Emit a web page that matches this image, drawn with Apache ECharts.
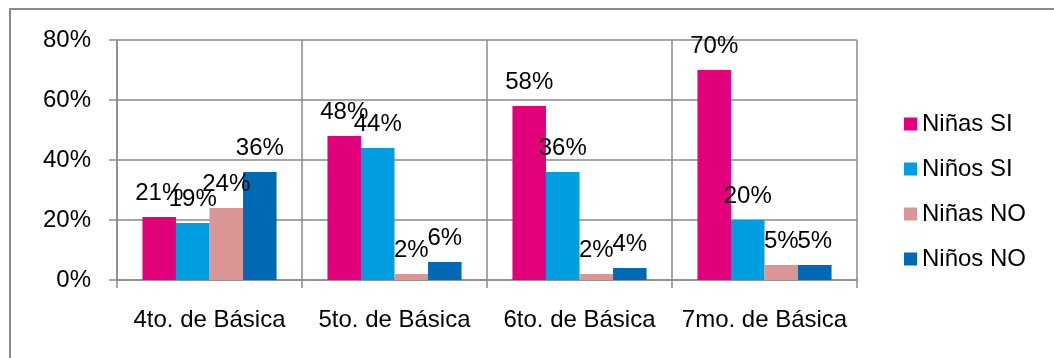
<!DOCTYPE html>
<html><head><meta charset="utf-8">
<script src="https://cdn.jsdelivr.net/npm/echarts@6/dist/echarts.min.js"></script>
<style>html,body{margin:0;padding:0;background:#fff}#c{width:1054px;height:358px}</style>
</head><body><div id="c"></div>
<script>
const categories = ['4to. de Básica','5to. de Básica','6to. de Básica','7mo. de Básica'];
const seriesNames = ['Niñas SI','Niños SI','Niñas NO','Niños NO'];
const ninasSI = [21, 48, 58, 70];
const ninosSI = [19, 44, 36, 20];
const ninasNO = [24, 2, 2, 5];
const ninosNO = [36, 6, 4, 5];
const yTicks = [0, 20, 40, 60, 80];
const colors = ['#E2007A', '#009EE0', '#D99694', '#0069B4'];
const font = 'Liberation Sans, Arial, sans-serif';
const allData = [ninasSI, ninosSI, ninasNO, ninosNO];
const chart = echarts.init(document.getElementById('c'), null, {renderer:'canvas'});
chart.setOption({
  animation:false,
  backgroundColor:'#fff',
  textStyle:{fontFamily:font},
  graphic:[{type:'rect', shape:{x:10,y:9,width:1100,height:400}, style:{fill:'none', stroke:'#8a8a8a', lineWidth:2}}],
  grid:{left:117, right:197, top:40, bottom:78},
  legend:{orient:'vertical', left:899, top:107, itemWidth:13, itemHeight:13, itemGap:21, icon:'rect',
    textStyle:{fontSize:24, color:'#000', fontFamily:font}, data:seriesNames},
  xAxis:{type:'category', data:categories, boundaryGap:true,
    axisLine:{lineStyle:{color:'#8a8a8a', width:1.5}},
    axisTick:{show:true, length:8, lineStyle:{color:'#8a8a8a', width:1.5}},
    splitLine:{show:true, lineStyle:{color:'#8a8a8a', width:1.5}},
    axisLabel:{fontSize:24, color:'#000', margin:28, interval:0, fontFamily:font}},
  yAxis:{type:'value', min:yTicks[0], max:yTicks[yTicks.length-1], interval:20,
    axisLine:{show:true, lineStyle:{color:'#8a8a8a', width:1.5}},
    axisTick:{show:true, length:8, lineStyle:{color:'#8a8a8a', width:1.5}},
    splitLine:{show:true, lineStyle:{color:'#8a8a8a', width:1.5}},
    axisLabel:{fontSize:24, color:'#000', margin:26, formatter:'{value}%', fontFamily:font}},
  series: seriesNames.map((n,i)=>({
    name:n, type:'bar', data:allData[i], barGap:'0%', barCategoryGap:'27.5%',
    itemStyle:{color:colors[i]},
    label:{show:true, position:'top', distance:12, fontSize:24, color:'#000', formatter:'{c}%', fontFamily:font}
  }))
});
</script></body></html>
